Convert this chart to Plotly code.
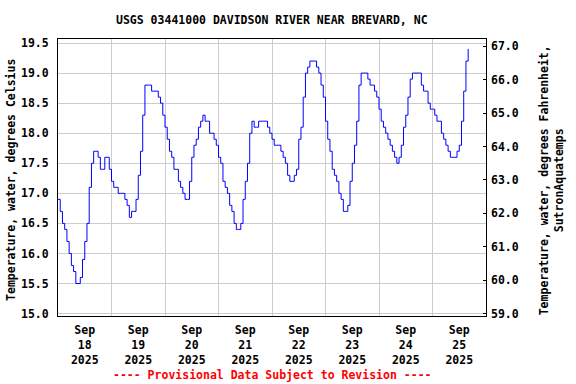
import pandas as pd
import plotly.graph_objects as go

# Hourly water temperature (deg C), starting 2025-09-18 00:00
temps_c = [
    16.9, 16.7, 16.5, 16.4, 16.2, 16.0, 15.8, 15.7, 15.5, 15.5, 15.6, 15.9,
    16.2, 16.5, 17.1, 17.5, 17.7, 17.7, 17.6, 17.4, 17.4, 17.6, 17.6, 17.4,
    17.2, 17.1, 17.1, 17.0, 17.0, 17.0, 16.9, 16.8, 16.6, 16.7, 16.7, 16.9,
    17.3, 17.7, 18.3, 18.8, 18.8, 18.8, 18.7, 18.7, 18.7, 18.6, 18.5, 18.3,
    18.1, 17.9, 17.7, 17.6, 17.4, 17.4, 17.2, 17.1, 17.0, 16.9, 16.9, 17.2,
    17.6, 17.8, 17.9, 18.1, 18.2, 18.3, 18.2, 18.2, 18.0, 18.0, 17.9, 17.8,
    17.6, 17.5, 17.2, 17.1, 17.0, 16.8, 16.7, 16.5, 16.4, 16.4, 16.5, 16.9,
    17.2, 17.5, 18.0, 18.2, 18.1, 18.1, 18.2, 18.2, 18.2, 18.2, 18.1, 18.0,
    17.9, 17.8, 17.8, 17.8, 17.7, 17.6, 17.5, 17.3, 17.2, 17.2, 17.3, 17.4,
    17.9, 18.1, 18.6, 19.0, 19.1, 19.2, 19.2, 19.2, 19.1, 19.0, 18.8, 18.6,
    18.2, 17.9, 17.7, 17.4, 17.3, 17.2, 17.0, 16.9, 16.7, 16.7, 16.8, 17.2,
    17.5, 17.8, 18.2, 18.8, 19.0, 19.0, 19.0, 18.9, 18.8, 18.8, 18.7, 18.6,
    18.4, 18.2, 18.1, 18.0, 17.9, 17.8, 17.7, 17.6, 17.5, 17.6, 17.8, 18.1,
    18.3, 18.6, 18.9, 19.0, 19.0, 19.0, 19.0, 18.8, 18.7, 18.7, 18.5, 18.4,
    18.4, 18.3, 18.2, 18.2, 18.0, 17.9, 17.8, 17.7, 17.6, 17.6, 17.6, 17.7,
    17.8, 18.2, 18.7, 19.2, 19.4,
]
start_time = "2025-09-18 00:00"
times = pd.date_range(start_time, periods=len(temps_c), freq="h")

day_labels = ["Sep<br>18<br>2025", "Sep<br>19<br>2025", "Sep<br>20<br>2025",
              "Sep<br>21<br>2025", "Sep<br>22<br>2025", "Sep<br>23<br>2025",
              "Sep<br>24<br>2025", "Sep<br>25<br>2025"]
label_times = pd.date_range("2025-09-18 12:00", periods=len(day_labels), freq="D")

c_ticks = [15.0, 15.5, 16.0, 16.5, 17.0, 17.5, 18.0, 18.5, 19.0, 19.5]
f_ticks = [59.0, 60.0, 61.0, 62.0, 63.0, 64.0, 65.0, 66.0, 67.0]
c_range = [14.96, 19.567]
f_range = [c * 1.8 + 32 for c in c_range]

FONT = "DejaVu Sans Mono"
fsize = 11.5

fig = go.Figure()
fig.add_trace(go.Scatter(
    x=times, y=temps_c, mode="lines", line=dict(color="#0000ff", width=1, shape="hv"),
    showlegend=False, hoverinfo="skip"))
fig.add_trace(go.Scatter(
    x=times, y=[c * 1.8 + 32 for c in temps_c], mode="lines", yaxis="y2",
    line=dict(color="rgba(0,0,0,0)", width=0), showlegend=False, hoverinfo="skip"))

fig.update_layout(
    width=576, height=384,
    margin=dict(l=58, r=90, t=39, b=68, autoexpand=False),
    paper_bgcolor="white", plot_bgcolor="white",
    font=dict(family=FONT, size=fsize, color="black", weight="bold"),
    xaxis=dict(
        range=["2025-09-18 00:00", "2025-09-26 00:00"],
        tickvals=label_times, ticktext=day_labels, ticks="",
        showgrid=False, zeroline=False, automargin=False,
        showline=True, linecolor="black", linewidth=1, mirror=True,
        minor=dict(dtick=86400000, tick0="2025-09-18", showgrid=True,
                   gridcolor="#cccccc", gridwidth=1, ticks=""),
        tickfont=dict(family=FONT, size=fsize, weight="bold"),
        ticklabelstandoff=3,
    ),
    yaxis=dict(
        range=c_range, tickvals=c_ticks, ticktext=[f"{v:.1f}" for v in c_ticks],
        showgrid=True, gridcolor="#cccccc", gridwidth=1, zeroline=False,
        automargin=False,
        showline=True, linecolor="black", linewidth=1, mirror=True, ticks="",
        tickfont=dict(family=FONT, size=fsize, weight="bold"),
        ticklabelstandoff=6,
    ),
    yaxis2=dict(
        range=f_range, overlaying="y", side="right", automargin=False,
        tickvals=f_ticks, ticktext=[f"{v:.1f}" for v in f_ticks],
        showgrid=False, zeroline=False, ticks="inside", ticklen=3,
        tickcolor="black", showline=False,
        tickfont=dict(family=FONT, size=fsize, weight="bold"),
        ticklabelstandoff=4,
    ),
    annotations=[
        dict(text="USGS 03441000 DAVIDSON RIVER NEAR BREVARD, NC",
             xref="paper", yref="paper", x=0.5, y=(315.7 - 20) / 276.4,
             xanchor="center", yanchor="middle", showarrow=False,
             font=dict(family=FONT, size=fsize, weight="bold")),
        dict(text="---- Provisional Data Subject to Revision ----",
             xref="paper", yref="paper", x=0.5, y=(315.7 - 375) / 276.4,
             xanchor="center", yanchor="middle", showarrow=False,
             font=dict(family=FONT, size=fsize, color="red", weight="bold")),
        dict(text="Temperature, water, degrees Celsius",
             xref="paper", yref="paper", x=(12 - 58.3) / 427.7, y=0.49,
             xanchor="center", yanchor="middle", textangle=-90, showarrow=False,
             font=dict(family=FONT, size=fsize, weight="bold")),
        dict(text="Temperature, water, degrees Fahrenheit,<br>SutronAquatemps",
             xref="paper", yref="paper", x=(551 - 58.3) / 427.7, y=0.49,
             xanchor="center", yanchor="middle", textangle=-90, showarrow=False,
             font=dict(family=FONT, size=fsize, weight="bold")),
    ],
)

fig.write_html("out.html", config={"displayModeBar": False},
               post_script="document.body.style.margin='0';")
